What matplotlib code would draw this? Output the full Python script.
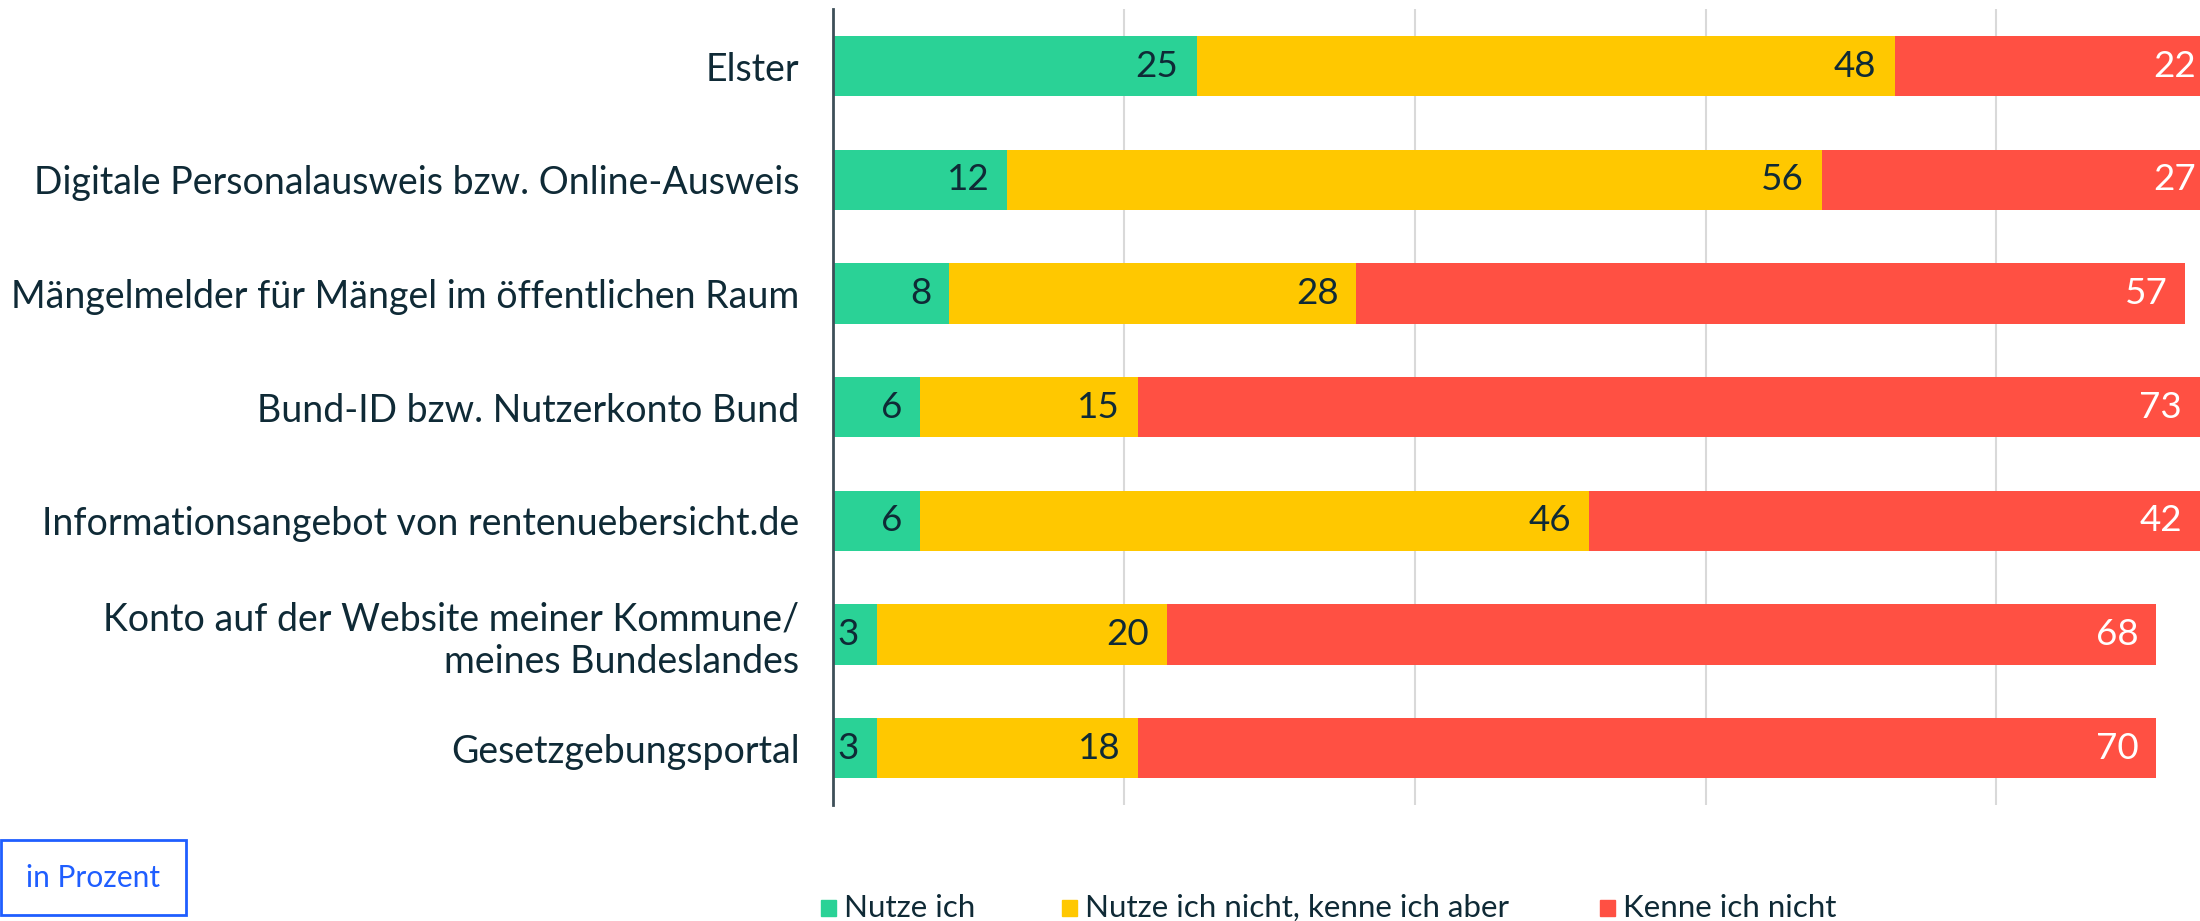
import matplotlib.pyplot as plt
import matplotlib.patches as mpatches
import numpy as np

plt.rcParams['font.family'] = ['Lato', 'DejaVu Sans']

categories = [
    'Elster',
    'Digitale Personalausweis bzw. Online-Ausweis',
    'Mängelmelder für Mängel im öffentlichen Raum',
    'Bund-ID bzw. Nutzerkonto Bund',
    'Informationsangebot von rentenuebersicht.de',
    'Konto auf der Website meiner Kommune/\nmeines Bundeslandes',
    'Gesetzgebungsportal',
]
nutze_ich = [25, 12, 8, 6, 6, 3, 3]
kenne_aber = [48, 56, 28, 15, 46, 20, 18]
kenne_nicht = [22, 27, 57, 73, 42, 68, 70]

series_names = ['Nutze ich', 'Nutze ich nicht, kenne ich aber', 'Kenne ich nicht']
colors = ['#2AD296', '#FFC800', '#FF5043']
label_colors = ['#0F2A36', '#0F2A36', 'white']
dark = '#0F2A36'

fig = plt.figure(figsize=(22, 9.21), dpi=100)
ax = fig.add_axes([0.3786, 0.126, 0.6214, 0.864])

y = np.arange(len(categories))
left = np.zeros(len(categories))
for vals, col, tcol in zip([nutze_ich, kenne_aber, kenne_nicht], colors, label_colors):
    vals = np.array(vals)
    ax.barh(y, vals, left=left, height=0.53, color=col, zorder=2)
    for yi, l, v in zip(y, left, vals):
        ax.annotate(str(v), xy=(l + v, yi), xytext=(-13, 0), textcoords='offset points',
                    ha='right', va='center', fontsize=26.5, color=tcol, zorder=3,
                    annotation_clip=False)
    left += vals

ax.set_xlim(0, 94)
ax.set_ylim(6.5, -0.5)
ax.set_yticks(y)
ax.set_yticklabels(categories, fontsize=27, color=dark, linespacing=1.2)
ax.tick_params(axis='y', length=0, pad=24)
ax.set_xticks([20, 40, 60, 80])
ax.tick_params(axis='x', length=0, labelbottom=False)
ax.grid(axis='x', color='#d9d9d9', linewidth=1.5, zorder=0)
for s in ['top', 'right', 'bottom']:
    ax.spines[s].set_visible(False)
ax.spines['left'].set_color('#3d4f58')
ax.spines['left'].set_linewidth(2)
ax.spines['left'].set_zorder(4)

# legend
leg_x = [821, 1062, 1600]
for name, col, lx in zip(series_names, colors, leg_x):
    fig.patches.append(mpatches.Rectangle((lx / 2200, 1 - 916 / 921), 15 / 2200, 16 / 921,
                                          transform=fig.transFigure, color=col))
    fig.text((lx + 23) / 2200, 1 - 908 / 921, name, fontsize=22.6, color=dark, va='center')

# "in Prozent" box
fig.patches.append(mpatches.Rectangle((1 / 2200, 1 - 915 / 921), 185 / 2200, 75 / 921,
                                      transform=fig.transFigure, facecolor='white',
                                      edgecolor='#1F5EFF', linewidth=2))
fig.text(93 / 2200, 1 - 878 / 921, 'in Prozent', fontsize=21.5, color='#1F5EFF',
         ha='center', va='center')

fig.savefig('out.png', dpi=100)
